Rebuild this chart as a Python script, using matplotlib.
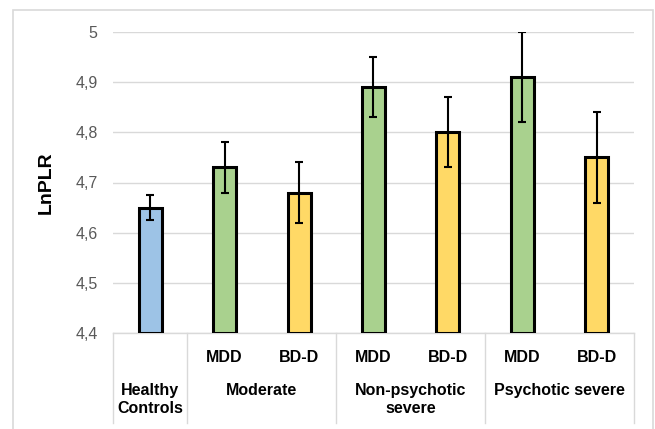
import matplotlib
matplotlib.use("Agg")
import matplotlib.pyplot as plt
from matplotlib.patches import Rectangle
from matplotlib.lines import Line2D

# Data
sub_labels = ["", "MDD", "BD-D", "MDD", "BD-D", "MDD", "BD-D"]
group_labels = ["Healthy\nControls", "Moderate", "Non-psychotic\nsevere", "Psychotic severe"]
group_spans = [(0, 0), (1, 2), (3, 4), (5, 6)]
values = [4.65, 4.73, 4.68, 4.89, 4.80, 4.91, 4.75]
errors = [0.025, 0.05, 0.06, 0.06, 0.07, 0.09, 0.09]
colors = ["#9DC3E6", "#A9D18E", "#FFD966", "#A9D18E", "#FFD966", "#A9D18E", "#FFD966"]
yticks = [4.4, 4.5, 4.6, 4.7, 4.8, 4.9, 5.0]
ytick_labels = ["4,4", "4,5", "4,6", "4,7", "4,8", "4,9", "5"]

W, H = 655, 429
fig = plt.figure(figsize=(W / 100, H / 100), dpi=100)
plt.rcParams['font.family'] = ['Liberation Sans', 'DejaVu Sans']

# outer frame
fig.patches.append(Rectangle((13 / W, -0.02), (653 - 13) / W, 1 - 10 / H + 0.02,
                             transform=fig.transFigure, fill=False,
                             edgecolor="#D9D9D9", linewidth=1.2))

ax = fig.add_axes([113 / W, 1 - 333 / H, (634 - 113) / W, (333 - 32) / H])
x = list(range(len(values)))
ax.bar(x, [v - 4.4 for v in values], bottom=4.4, width=0.31, color=colors,
       edgecolor="black", linewidth=2.2, zorder=3)
ax.errorbar(x, values, yerr=errors, fmt="none", ecolor="black",
            elinewidth=1.5, capsize=3, capthick=1.5, zorder=4)

ax.set_xlim(-0.5, 6.5)
ax.set_ylim(4.4, 5.0)
ax.set_yticks(yticks)
ax.set_yticklabels(ytick_labels, color="#595959", fontsize=11.5)
ax.tick_params(axis="y", length=0, pad=11)
ax.set_xticks([])
for s in ["top", "right", "left"]:
    ax.spines[s].set_visible(False)
ax.spines["bottom"].set_color("#D9D9D9")
ax.spines["bottom"].set_linewidth(1)
ax.grid(axis="y", color="#D9D9D9", linewidth=1, zorder=0)
ax.set_axisbelow(True)

ax.set_ylabel("LnPLR", fontsize=14, fontweight="bold", labelpad=12)
ax.yaxis.set_label_coords(-(113 - 55) / (634 - 113), 0.5)

tr = ax.get_xaxis_transform()
axh = 333 - 32
def yfrac(py):
    return (333 - py) / axh

for xi, lab in zip(x, sub_labels):
    if lab:
        ax.text(xi, yfrac(357), lab, transform=tr, ha="center", va="center",
                fontsize=11.5, fontweight="bold", color="black")
for lab, (a, b) in zip(group_labels, group_spans):
    ax.text((a + b) / 2, yfrac(383), lab, transform=tr, ha="center", va="top",
            fontsize=11.5, fontweight="bold", color="black", linespacing=1.25)

for bx in [-0.5, 0.5, 2.5, 4.5, 6.5]:
    ax.add_line(Line2D([bx, bx], [0, yfrac(423)], transform=tr, color="#D9D9D9",
                       linewidth=1, clip_on=False))

fig.savefig("out.png", dpi=100)
